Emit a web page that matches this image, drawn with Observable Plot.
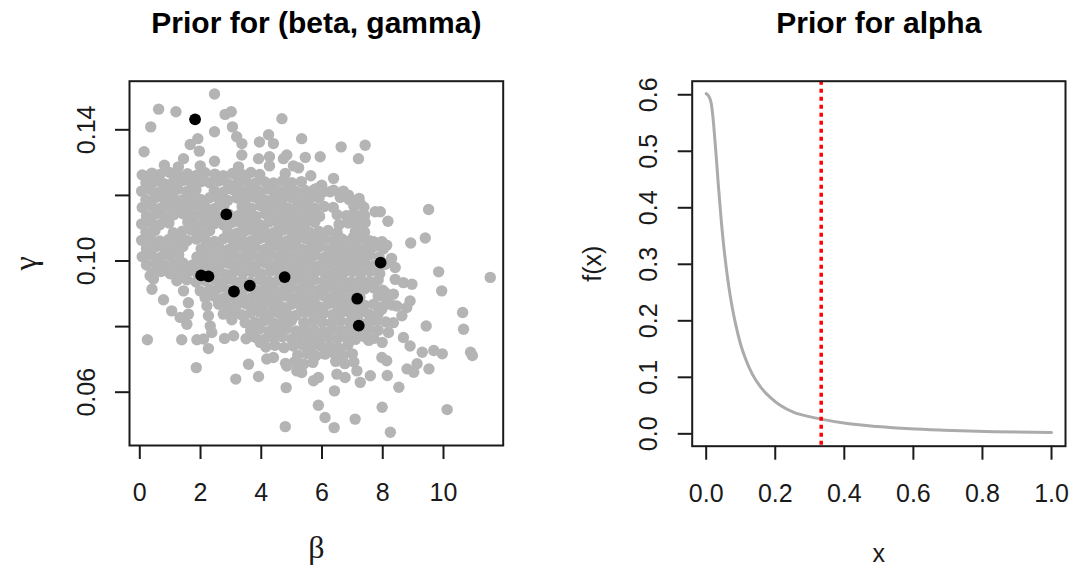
<!DOCTYPE html>
<html>
<head>
<meta charset="utf-8">
<script src="https://cdn.jsdelivr.net/npm/d3@7"></script>
<script src="https://cdn.jsdelivr.net/npm/@observablehq/plot@0.6"></script>
<style>
  html, body { margin: 0; padding: 0; background: #fff; }
  body { width: 1071px; height: 567px; position: relative; overflow: hidden;
         font-family: "Liberation Sans", Arial, Helvetica, sans-serif; }
  .panel { position: absolute; top: 0; }
  #left { left: 0; }
  #right { left: 535px; }
</style>
</head>
<body>
<div id="left" class="panel"></div>
<div id="right" class="panel"></div>
<script>
// ---------- Data: left panel, prior draws of (beta, gamma) ----------
const priorDraws = [
  // upper scattered draws
  [2.46,0.1509],[0.62,0.1463],[1.19,0.1455],[2.81,0.1447],[3.01,0.1455],[0.36,0.1409],[2.46,0.1394],[3.05,0.1409],
  [3.19,0.1379],[1.91,0.1373],[1.66,0.1355],[1.96,0.1335],[0.14,0.1333],[3.36,0.1358],[0.81,0.1292],[1.44,0.1312],
  [1.27,0.1287],[1.99,0.1290],[2.46,0.1304],[3.36,0.1323],[3.25,0.1287],[0.34,0.1262],
  [4.68,0.1434],[5.33,0.1373],[4.24,0.1385],[3.94,0.1363],[4.40,0.1358],[6.63,0.1348],[7.42,0.1353],[7.20,0.1312],
  [5.94,0.1318],[5.45,0.1316],[3.91,0.1312],[4.27,0.1318],[4.27,0.1290],[4.73,0.1312],[4.84,0.1323],[5.06,0.1290],
  [5.23,0.1284],[4.79,0.1267],[5.63,0.1260],[6.38,0.1252],[5.99,0.1231],[5.83,0.1221],[6.87,0.1201],[6.65,0.1206],
  [6.27,0.1211],[7.26,0.1175],[7.75,0.1150],[7.15,0.1130],[6.98,0.1140],[7.04,0.1074],[7.70,0.1059],[6.65,0.1038],
  // right scattered draws
  [9.51,0.1157],[7.92,0.1150],[8.17,0.1121],[9.40,0.1070],[8.92,0.1055],[7.97,0.1059],[8.13,0.1048],[8.29,0.1008],
  [8.08,0.0990],[8.41,0.0980],[9.84,0.0967],[11.54,0.0950],[9.94,0.0909],[8.41,0.0944],[8.68,0.0934],[8.96,0.0929],
  [8.08,0.0904],[8.35,0.0899],[8.90,0.0878],[8.79,0.0858],[8.46,0.0863],[7.97,0.0853],[8.63,0.0833],[8.35,0.0812],
  [8.19,0.0782],[9.43,0.0802],[10.63,0.0843],[10.66,0.0792],[8.68,0.0767],[8.90,0.0741],[7.98,0.0752],[7.54,0.0758],
  [8.15,0.0651],[8.53,0.0615],[7.98,0.0554],[8.25,0.0478],[10.12,0.0547],[8.80,0.0671],[9.13,0.0687],[9.52,0.0671],
  [9.02,0.0661],[9.30,0.0722],[9.68,0.0727],[9.96,0.0717],[10.89,0.0722],[10.95,0.0712],[7.97,0.0706],[8.13,0.0696],
  // lower scattered draws
  [4.84,0.0680],[5.17,0.0665],[5.33,0.0660],[5.72,0.0635],[5.88,0.0645],[4.82,0.0614],[3.91,0.0648],[6.41,0.0604],
  [5.88,0.0560],[6.10,0.0523],[6.40,0.0492],[7.09,0.0518],[4.79,0.0495],[6.49,0.0655],[6.76,0.0645],[7.15,0.0665],
  [7.59,0.0650],[7.26,0.0630],[4.18,0.0701],[4.40,0.0706],
  // lower-left scattered draws
  [0.25,0.0760],[1.38,0.0760],[1.86,0.0675],[3.16,0.0640],[3.58,0.0685],[2.26,0.0733],[1.88,0.0760],[2.10,0.0762],
  [2.79,0.0764],[3.09,0.0772],[3.03,0.0821],[3.47,0.0812],[1.60,0.0838],[1.60,0.0873],[0.78,0.0882],[1.05,0.0848],
  [1.33,0.0828],[1.55,0.0807],[0.40,0.0914],[0.45,0.0945],[0.34,0.0955],[0.67,0.0970],[0.95,0.0980],[1.22,0.0940],
  [1.44,0.0909],[1.99,0.0909],[2.21,0.0863],[2.26,0.0833],[2.32,0.0802],[2.37,0.0782],[2.59,0.0873],[2.81,0.0879],
  [3.96,0.0752],[3.85,0.0807],
  // dense core
  [0.08,0.1262],[0.40,0.1268],[0.66,0.1264],[0.98,0.1270],[1.25,0.1263],[1.57,0.1266],[1.86,0.1261],[2.15,0.1269],
  [2.47,0.1265],[2.75,0.1260],[3.05,0.1267],[3.38,0.1263],[3.66,0.1270],[3.95,0.1264],
  [0.20,0.1238],[0.52,0.1243],[0.80,0.1236],[1.10,0.1241],[1.40,0.1245],[1.70,0.1237],[2.02,0.1242],[2.30,0.1239],
  [2.60,0.1244],[2.90,0.1236],[3.22,0.1240],[3.50,0.1243],[3.80,0.1237],[4.12,0.1241],[4.40,0.1238],[4.70,0.1244],
  [5.00,0.1239],[5.32,0.1242],
  [0.06,0.1213],[0.35,0.1218],[0.66,0.1211],[0.95,0.1216],[1.25,0.1219],[1.55,0.1212],[1.85,0.1217],[2.45,0.1214],
  [2.75,0.1210],[3.05,0.1218],[3.35,0.1213],[3.65,0.1216],[3.95,0.1211],[4.25,0.1219],[4.55,0.1214],[4.85,0.1217],
  [5.15,0.1212],[5.45,0.1215],[5.75,0.1218],[6.05,0.1211],[6.38,0.1216],[6.70,0.1213],
  [0.20,0.1187],[0.50,0.1192],[0.80,0.1189],[1.10,0.1194],[1.40,0.1186],[1.70,0.1191],[2.00,0.1188],[2.30,0.1193],
  [2.60,0.1190],[2.90,0.1185],[3.20,0.1192],[3.50,0.1188],[3.80,0.1194],[4.10,0.1187],[4.40,0.1191],[4.70,0.1189],
  [5.00,0.1193],[5.30,0.1186],[5.60,0.1190],[5.90,0.1192],[6.60,0.1194],[6.90,0.1187],[7.22,0.1191],
  [0.08,0.1163],[0.38,0.1168],[0.68,0.1161],[0.97,0.1166],[1.27,0.1169],[1.57,0.1162],[1.87,0.1167],[2.17,0.1164],
  [2.47,0.1160],[2.77,0.1168],[3.37,0.1166],[3.67,0.1161],[3.97,0.1169],[4.27,0.1164],[4.57,0.1167],[4.87,0.1162],
  [5.17,0.1165],[5.47,0.1168],[5.77,0.1161],[6.07,0.1166],[6.37,0.1163],[7.05,0.1167],[7.38,0.1164],
  [0.22,0.1138],[0.52,0.1143],[0.82,0.1136],[1.12,0.1141],[1.42,0.1144],[1.72,0.1137],[2.02,0.1142],[2.32,0.1139],
  [2.62,0.1135],[2.92,0.1143],[3.22,0.1138],[3.52,0.1141],[3.82,0.1136],[4.12,0.1144],[4.42,0.1139],[4.72,0.1142],
  [5.02,0.1137],[5.32,0.1140],[5.62,0.1143],[5.92,0.1136],[6.50,0.1141],[6.80,0.1138],[7.10,0.1142],[7.40,0.1139],
  [0.06,0.1113],[0.36,0.1118],[0.66,0.1111],[0.96,0.1116],[1.58,0.1119],[1.86,0.1112],[2.16,0.1117],[2.46,0.1114],
  [2.76,0.1110],[3.06,0.1118],[3.36,0.1113],[3.66,0.1116],[3.96,0.1111],[4.26,0.1119],[4.56,0.1114],[4.86,0.1117],
  [5.16,0.1112],[5.46,0.1115],[5.76,0.1118],[6.56,0.1111],[6.86,0.1116],[7.16,0.1113],[7.42,0.1117],
  [0.20,0.1088],[0.50,0.1093],[1.10,0.1086],[1.40,0.1091],[1.70,0.1094],[2.00,0.1087],[2.30,0.1092],[2.90,0.1089],
  [3.20,0.1085],[3.50,0.1093],[3.80,0.1088],[4.10,0.1091],[4.40,0.1086],[4.70,0.1094],[5.00,0.1089],[5.30,0.1092],
  [5.60,0.1087],[5.90,0.1090],[6.20,0.1093],[6.50,0.1086],[7.10,0.1091],[7.40,0.1088],
  [0.06,0.1063],[0.36,0.1068],[0.66,0.1061],[0.96,0.1066],[1.26,0.1069],[1.56,0.1062],[1.86,0.1067],[2.16,0.1064],
  [2.46,0.1060],[2.76,0.1068],[3.06,0.1063],[3.36,0.1066],[3.66,0.1061],[3.96,0.1069],[4.26,0.1064],[4.56,0.1067],
  [4.86,0.1062],[5.16,0.1065],[5.46,0.1068],[5.76,0.1061],[6.06,0.1066],[6.36,0.1063],[6.66,0.1067],[6.96,0.1064],
  [7.26,0.1069],[7.56,0.1062],
  [0.22,0.1038],[0.52,0.1043],[0.82,0.1036],[1.12,0.1041],[1.42,0.1044],[2.02,0.1037],[2.32,0.1042],[2.62,0.1039],
  [2.92,0.1035],[3.22,0.1043],[3.52,0.1038],[3.82,0.1041],[4.12,0.1036],[4.42,0.1044],[4.72,0.1039],[5.02,0.1042],
  [5.32,0.1037],[5.62,0.1040],[5.92,0.1043],[6.22,0.1036],[6.52,0.1041],[6.82,0.1038],[7.12,0.1042],[7.42,0.1039],
  [7.72,0.1044],[8.02,0.1037],
  [0.08,0.1013],[0.38,0.1018],[0.68,0.1011],[0.98,0.1016],[1.28,0.1019],[1.88,0.1012],[2.18,0.1017],[2.48,0.1014],
  [2.78,0.1010],[3.08,0.1018],[3.38,0.1013],[3.68,0.1016],[3.98,0.1011],[4.28,0.1019],[4.58,0.1014],[4.88,0.1017],
  [5.18,0.1012],[5.48,0.1015],[5.78,0.1018],[6.08,0.1011],[6.38,0.1016],[6.68,0.1013],[6.98,0.1017],[7.28,0.1014],
  [7.58,0.1019],[7.88,0.1012],
  [0.22,0.0988],[0.52,0.0993],[0.82,0.0986],[1.12,0.0991],[1.42,0.0994],[1.72,0.0987],[2.02,0.0992],[2.32,0.0989],
  [2.62,0.0985],[2.92,0.0993],[3.22,0.0988],[3.52,0.0991],[3.82,0.0986],[4.12,0.0994],[4.42,0.0989],[4.72,0.0992],
  [5.02,0.0987],[5.32,0.0990],[5.62,0.0993],[5.92,0.0986],[6.22,0.0991],[6.52,0.0988],[6.82,0.0992],[7.12,0.0989],
  [7.42,0.0994],[7.72,0.0987],[8.02,0.0991],
  [0.40,0.0963],[0.70,0.0968],[1.00,0.0961],[1.30,0.0966],[1.60,0.0969],[1.90,0.0962],[2.20,0.0967],[2.50,0.0964],
  [2.80,0.0960],[3.10,0.0968],[3.40,0.0963],[3.70,0.0966],[4.00,0.0961],[4.30,0.0969],[4.60,0.0964],[4.90,0.0967],
  [5.20,0.0962],[5.50,0.0965],[5.80,0.0968],[6.10,0.0961],[6.40,0.0966],[6.70,0.0963],[7.00,0.0967],[7.30,0.0964],
  [7.60,0.0969],[7.90,0.0962],
  [1.55,0.0943],[1.85,0.0936],[2.15,0.0941],[2.45,0.0944],[2.75,0.0937],[3.05,0.0942],[3.35,0.0939],[3.65,0.0935],
  [3.95,0.0943],[4.25,0.0938],[4.55,0.0941],[4.85,0.0936],[5.15,0.0944],[5.45,0.0939],[5.75,0.0942],[6.05,0.0937],
  [6.35,0.0940],[6.65,0.0943],[6.95,0.0936],[7.25,0.0941],[7.55,0.0938],[7.85,0.0942],
  [2.30,0.0913],[2.60,0.0918],[2.90,0.0911],[3.20,0.0916],[3.50,0.0919],[3.80,0.0912],[4.10,0.0917],[4.40,0.0914],
  [4.70,0.0910],[5.00,0.0918],[5.30,0.0913],[5.60,0.0916],[5.90,0.0911],[6.20,0.0919],[6.50,0.0914],[6.80,0.0917],
  [7.10,0.0912],[7.40,0.0915],[7.70,0.0918],[8.00,0.0911],
  [2.15,0.0888],[2.45,0.0893],[2.75,0.0886],[3.05,0.0891],[3.35,0.0894],[3.65,0.0887],[3.95,0.0892],[4.25,0.0889],
  [4.55,0.0885],[4.85,0.0893],[5.15,0.0888],[5.45,0.0891],[5.75,0.0886],[6.05,0.0894],[6.35,0.0889],[6.65,0.0892],
  [6.95,0.0887],[7.25,0.0890],[7.85,0.0893],[8.15,0.0886],
  [2.60,0.0868],[2.90,0.0861],[3.20,0.0866],[3.50,0.0869],[3.80,0.0862],[4.10,0.0867],[4.40,0.0864],[4.70,0.0860],
  [5.00,0.0868],[5.30,0.0863],[5.60,0.0866],[5.90,0.0861],[6.20,0.0869],[6.50,0.0864],[6.80,0.0867],[7.10,0.0862],
  [7.40,0.0865],[7.70,0.0868],[8.00,0.0861],[8.30,0.0866],
  [2.75,0.0838],[3.05,0.0843],[3.35,0.0836],[3.65,0.0841],[3.95,0.0844],[4.25,0.0837],[4.55,0.0842],[4.85,0.0839],
  [5.15,0.0835],[5.45,0.0843],[5.75,0.0838],[6.05,0.0841],[6.35,0.0836],[6.65,0.0844],[6.95,0.0839],[7.25,0.0842],
  [7.55,0.0837],[7.85,0.0840],
  [3.80,0.0813],[4.10,0.0818],[4.40,0.0811],[4.70,0.0816],[5.00,0.0819],[5.40,0.0812],[5.70,0.0817],[6.00,0.0814],
  [6.30,0.0810],[6.60,0.0818],[6.90,0.0813],[7.20,0.0816],[7.50,0.0811],[7.80,0.0819],[8.10,0.0814],
  [3.65,0.0788],[3.95,0.0793],[4.25,0.0786],[4.55,0.0791],[4.85,0.0794],[5.15,0.0787],[5.45,0.0792],[5.75,0.0789],
  [6.05,0.0785],[6.35,0.0793],[6.65,0.0788],[6.95,0.0791],[7.25,0.0786],[7.55,0.0794],[7.85,0.0789],
  [3.50,0.0763],[3.80,0.0768],[4.10,0.0761],[4.40,0.0766],[4.70,0.0769],[5.00,0.0762],[5.30,0.0767],[5.60,0.0764],
  [5.90,0.0760],[6.20,0.0768],[6.50,0.0763],[6.80,0.0766],[7.10,0.0761],[7.40,0.0769],[7.70,0.0764],
  [4.15,0.0738],[4.45,0.0743],[4.75,0.0736],[5.05,0.0741],[5.35,0.0744],[5.65,0.0737],[5.95,0.0742],[6.25,0.0739],
  [6.55,0.0735],[6.85,0.0743],
  [5.20,0.0713],[5.50,0.0718],[5.80,0.0711],[6.10,0.0716],[6.40,0.0719],[6.70,0.0712],[7.00,0.0717],
  [4.80,0.0688],[5.10,0.0693],[5.40,0.0686],[5.70,0.0691],[6.45,0.0694],[6.75,0.0687],[7.05,0.0692]
];

// highlighted (black) draws
const sampledDraws = [
  [1.82,0.1432],[2.85,0.1142],[2.02,0.0956],[2.26,0.0953],[3.10,0.0907],
  [3.62,0.0925],[4.77,0.0951],[7.93,0.0995],[7.16,0.0885],[7.21,0.0803]
];

const betaTicks = [0, 2, 4, 6, 8, 10];
const gammaTicks = [0.06, 0.08, 0.10, 0.12, 0.14];
const gammaTickLabels = [0.06, 0.10, 0.14];

// ---------- Data: right panel, prior density for alpha ----------
const alphaX = [0, 0.0077, 0.0145, 0.0203, 0.0251, 0.0299, 0.0347, 0.0396, 0.0444, 0.0512, 0.0579,
  0.0656, 0.0753, 0.0849, 0.0994, 0.1139, 0.1332, 0.1573, 0.1863, 0.2153, 0.2539, 0.3021, 0.333,
  0.3986, 0.4952, 0.5917, 0.6882, 0.833, 1.0];
const alphaDensity = [0.602, 0.597, 0.585, 0.556, 0.521, 0.484, 0.444, 0.407, 0.372, 0.330, 0.295,
  0.260, 0.224, 0.195, 0.159, 0.133, 0.106, 0.083, 0.064, 0.050, 0.038, 0.030, 0.026,
  0.019, 0.013, 0.009, 0.0065, 0.0038, 0.0024];
const alphaMark = 0.333;
const alphaTicks = [0, 0.2, 0.4, 0.6, 0.8, 1.0];
const densityTicks = [0, 0.1, 0.2, 0.3, 0.4, 0.5, 0.6];

const alphaCurve = alphaX.map((x, i) => ({x, y: alphaDensity[i]}));

// ---------- Styling ----------
const sans = "'Liberation Sans', Arial, Helvetica, sans-serif";
const serif = "'Liberation Serif', 'DejaVu Serif', 'Times New Roman', serif";
const ink = "#1a1a1a";
const baseStyle = {fontFamily: sans, background: "transparent", color: ink, overflow: "visible"};

const leftPlot = Plot.plot({
  width: 535, height: 567,
  marginLeft: 129, marginRight: 32.3, marginTop: 80.7, marginBottom: 122,
  x: {domain: [-0.339, 11.966], axis: null},
  y: {domain: [0.04375, 0.15482], axis: null},
  style: baseStyle,
  marks: [
    Plot.dot(priorDraws, {x: d => d[0], y: d => d[1], r: 5.7, fill: "#b4b4b4"}),
    Plot.dot(sampledDraws, {x: d => d[0], y: d => d[1], r: 5.9, fill: "#000"}),
    Plot.frame({stroke: ink, strokeWidth: 2}),
    Plot.axisX({ticks: betaTicks, tickSize: 14, tickPadding: 24, fontSize: 25, label: null,
                strokeWidth: 2, tickFormat: d => String(d), fill: ink}),
    Plot.axisY({ticks: gammaTicks, tickSize: 14, tickFormat: () => "", label: null, strokeWidth: 2}),
    Plot.text(gammaTickLabels, {y: d => d, text: d => d.toFixed(2), frameAnchor: "left", rotate: -90,
                dx: -35, textAnchor: "middle", lineAnchor: "bottom", fontSize: 25, fill: ink}),
    Plot.text(["Prior for (beta, gamma)"], {text: d => d, frameAnchor: "top", dy: -47.7, lineAnchor: "bottom",
                fontSize: 30, fontWeight: "bold", fill: "#000"}),
    Plot.text(["β"], {text: d => d, frameAnchor: "bottom", dy: 112, lineAnchor: "bottom",
                fontSize: 32, fontFamily: serif, fill: ink}),
    Plot.text(["γ"], {text: d => d, frameAnchor: "left", dx: -94, rotate: -90, lineAnchor: "bottom",
                textAnchor: "middle", fontSize: 32, fontFamily: serif, fill: ink})
  ]
});

const rightPlot = Plot.plot({
  width: 536, height: 567,
  marginLeft: 156.7, marginRight: 6, marginTop: 80.7, marginBottom: 121.3,
  x: {domain: [-0.0405, 1.0405], axis: null},
  y: {domain: [-0.0219, 0.624], axis: null},
  style: baseStyle,
  marks: [
    Plot.line(alphaCurve, {x: "x", y: "y", stroke: "#ababab", strokeWidth: 3, curve: "monotone-x"}),
    Plot.ruleX([alphaMark], {x: d => d, stroke: "#ff0000", strokeWidth: 3.5, strokeDasharray: "4,4"}),
    Plot.frame({stroke: ink, strokeWidth: 2}),
    Plot.axisX({ticks: alphaTicks, tickSize: 14, tickPadding: 24, fontSize: 25, label: null,
                strokeWidth: 2, tickFormat: d => d.toFixed(1), fill: ink}),
    Plot.axisY({ticks: densityTicks, tickSize: 14, tickFormat: () => "", label: null, strokeWidth: 2}),
    Plot.text(densityTicks, {y: d => d, text: d => d.toFixed(1), frameAnchor: "left", rotate: -90,
                dx: -35, textAnchor: "middle", lineAnchor: "bottom", fontSize: 25, fill: ink}),
    Plot.text(["Prior for alpha"], {text: d => d, frameAnchor: "top", dy: -47.7, lineAnchor: "bottom",
                fontSize: 30, fontWeight: "bold", fill: "#000"}),
    Plot.text(["x"], {text: d => d, frameAnchor: "bottom", dy: 116, lineAnchor: "bottom",
                fontSize: 25, fill: ink}),
    Plot.text(["f(x)"], {text: d => d, frameAnchor: "left", dx: -91.7, rotate: -90, lineAnchor: "bottom",
                textAnchor: "middle", fontSize: 25, fill: ink})
  ]
});

document.getElementById("left").appendChild(leftPlot);
document.getElementById("right").appendChild(rightPlot);
</script>
</body>
</html>
